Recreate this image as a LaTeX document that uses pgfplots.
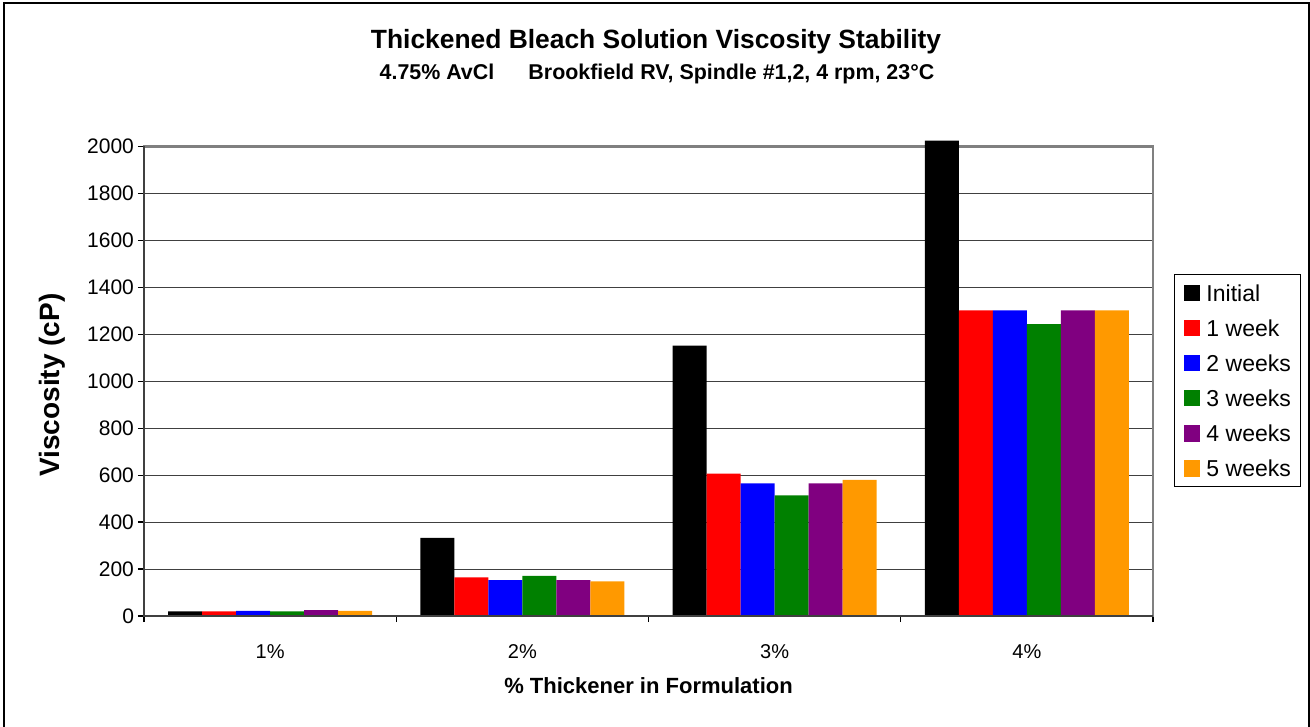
\documentclass[border=0pt]{standalone}
\usepackage{pgfplots}
\pgfplotsset{compat=1.18}
\usepackage{fontspec}
\setmainfont{Liberation Sans}
\definecolor{cRed}{HTML}{FF0000}
\definecolor{cBlue}{HTML}{0000FF}
\definecolor{cGreen}{HTML}{008000}
\definecolor{cPurple}{HTML}{800080}
\definecolor{cOrange}{HTML}{FF9900}
\begin{document}
\begin{tikzpicture}
\useasboundingbox (-72pt,-55.5pt) rectangle (583pt,308pt);
\draw[line width=0.8pt] (-70pt,-60pt) rectangle (582.5pt,306.5pt);
\begin{axis}[
  at={(0,0)}, anchor=south west,
  scale only axis, width=504.5pt, height=234.75pt,
  xmin=-0.5, xmax=3.5, ymin=0, ymax=2000,
  clip=false,
  ybar=0pt, bar width=0.1347,
  axis line style={draw=black!50, line width=1.2pt},
  xtick={-0.5,0.5,1.5,2.5,3.5}, xticklabels={},
  extra x ticks={0,1,2,3},
  extra x tick labels={1\%,2\%,3\%,4\%},
  extra x tick style={major tick length=0pt, grid=none,
     xticklabel style={font=\fontsize{10}{12}\selectfont, anchor=base, yshift=-21pt}},
  ytick={0,200,...,2000},
  scaled y ticks=false,
  /pgf/number format/1000 sep={},
  /pgf/number format/assume math mode=true,
  yticklabel style={font=\fontsize{10.5}{12}\selectfont, anchor=east, xshift=1.5pt},
  tick align=outside, major tick length=3pt,
  tick style={black, line width=0.6pt},
  xtick pos=bottom, ytick pos=left,
  ymajorgrids, grid style={black!75, line width=0.5pt},
  legend style={at={(1.0208,0.7284)}, anchor=north west, draw=black, line width=0.5pt,
     font=\fontsize{11.5}{13}\selectfont, inner xsep=5pt, inner ysep=5pt,
     row sep=9.25pt,
     nodes={inner sep=0pt, text height=8.3pt, text depth=0pt},
     /tikz/every odd column/.append style={column sep=3pt}},
  legend cell align=left,
  legend image code/.code={\fill[#1] (0pt,-4.15pt) rectangle (8pt,4.15pt);},
]
\addplot[fill=black, draw=none] coordinates {(0,20) (1,333) (2,1152) (3,2025)};
\addplot[fill=cRed, draw=none] coordinates {(0,20) (1,165) (2,606) (3,1302)};
\addplot[fill=cBlue, draw=none] coordinates {(0,22) (1,153) (2,565) (3,1302)};
\addplot[fill=cGreen, draw=none] coordinates {(0,20) (1,171) (2,514) (3,1243)};
\addplot[fill=cPurple, draw=none] coordinates {(0,25) (1,153) (2,565) (3,1302)};
\addplot[fill=cOrange, draw=none] coordinates {(0,22) (1,148) (2,580) (3,1302)};
\legend{Initial, 1 week, 2 weeks, 3 weeks, 4 weeks, 5 weeks}
\draw[black!75, line width=0.8pt] (rel axis cs:0,1) -- (rel axis cs:0,0) -- (rel axis cs:1,0);
\end{axis}
\node[anchor=base, font=\bfseries\fontsize{13.2}{15}\selectfont] at (256pt,283.5pt) {Thickened Bleach Solution Viscosity Stability};
\node[anchor=base, font=\bfseries\fontsize{10.7}{12}\selectfont] at (256.5pt,268pt) {4.75\% AvCl\hspace{1.6em}Brookfield RV, Spindle \#1,2, 4 rpm, 23°C};
\node[anchor=base, rotate=90, font=\bfseries\fontsize{14}{16}\selectfont] at (-42pt,115.5pt) {Viscosity (cP)};
\node[anchor=base, font=\bfseries\fontsize{11}{13}\selectfont] at (252.25pt,-39pt) {\% Thickener in Formulation};
\end{tikzpicture}
\end{document}
